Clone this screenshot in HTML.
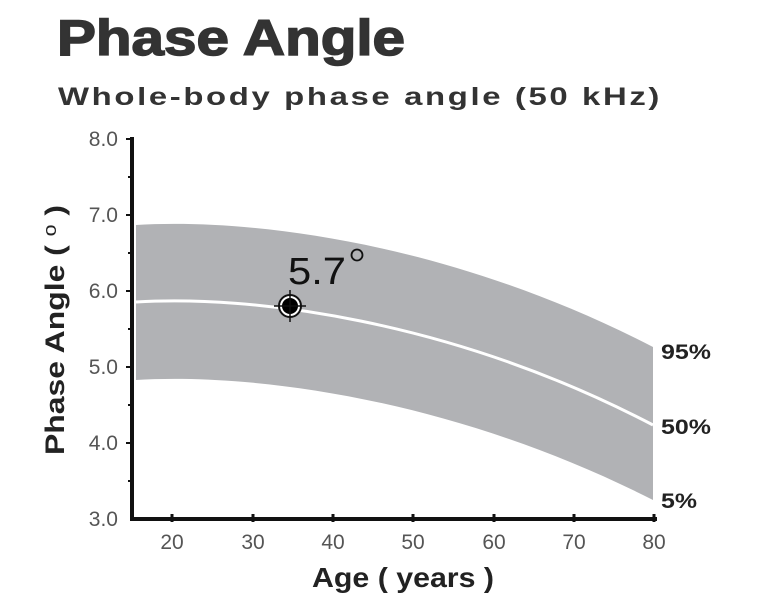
<!DOCTYPE html>
<html><head><style>
html,body{margin:0;padding:0;background:#fff;}
</style></head><body>
<svg width="768" height="601" viewBox="0 0 768 601" xmlns="http://www.w3.org/2000/svg" font-family="Liberation Sans, sans-serif">
<text x="57" y="55" font-size="50" font-weight="bold" fill="#333" textLength="348" lengthAdjust="spacingAndGlyphs" stroke="#333" stroke-width="1.5">Phase Angle</text>
<text x="58" y="105" font-size="25" font-weight="bold" fill="#333" textLength="604" lengthAdjust="spacingAndGlyphs" letter-spacing="2">Whole-body phase angle (50 kHz)</text>
<path d="M136,225 C250,218 450,242 653,347 L653,500 C450,397 250,373 136,380 Z" fill="#b1b2b5"/>
<path d="M136,302 C250,295 450,319 653,425" fill="none" stroke="#fff" stroke-width="3"/>
<line x1="132" y1="137" x2="132" y2="521" stroke="#111" stroke-width="4"/>
<line x1="130" y1="519" x2="657" y2="519" stroke="#111" stroke-width="4"/>
<g stroke="#111" stroke-width="2">
<line x1="126" y1="139" x2="134" y2="139"/><line x1="126" y1="215" x2="134" y2="215"/><line x1="126" y1="291" x2="134" y2="291"/><line x1="126" y1="367" x2="134" y2="367"/><line x1="126" y1="443" x2="134" y2="443"/>
<line x1="128" y1="177" x2="133" y2="177"/><line x1="128" y1="253" x2="133" y2="253"/><line x1="128" y1="329" x2="133" y2="329"/><line x1="128" y1="405" x2="133" y2="405"/><line x1="128" y1="481" x2="133" y2="481"/>
</g>
<g stroke="#111" stroke-width="3">
<line x1="172" y1="514" x2="172" y2="522"/><line x1="253" y1="514" x2="253" y2="522"/><line x1="333" y1="514" x2="333" y2="522"/><line x1="413" y1="514" x2="413" y2="522"/><line x1="494" y1="514" x2="494" y2="522"/><line x1="574" y1="514" x2="574" y2="522"/><line x1="654" y1="514" x2="654" y2="522"/>
</g>
<g font-size="21" fill="#555" text-anchor="end">
<text x="118" y="146">8.0</text><text x="118" y="222">7.0</text><text x="118" y="298">6.0</text><text x="118" y="374">5.0</text><text x="118" y="450">4.0</text><text x="118" y="526">3.0</text>
</g>
<g font-size="21" fill="#555" text-anchor="middle">
<text x="172" y="549">20</text><text x="253" y="549">30</text><text x="333" y="549">40</text><text x="413" y="549">50</text><text x="494" y="549">60</text><text x="574" y="549">70</text><text x="654" y="549">80</text>
</g>
<text transform="translate(64,330) rotate(-90)" text-anchor="middle" font-size="27" font-weight="bold" fill="#222" textLength="250" lengthAdjust="spacingAndGlyphs">Phase Angle ( <tspan font-weight="normal" font-size="18" dy="-8">o</tspan><tspan dy="8"> )</tspan></text>
<text x="403" y="587" text-anchor="middle" font-size="28" font-weight="bold" fill="#222" textLength="182" lengthAdjust="spacingAndGlyphs">Age ( years )</text>
<g font-size="21" font-weight="bold" fill="#222">
<text x="661" y="359" textLength="50" lengthAdjust="spacingAndGlyphs">95%</text><text x="661" y="434" textLength="50" lengthAdjust="spacingAndGlyphs">50%</text><text x="661" y="508" textLength="36" lengthAdjust="spacingAndGlyphs">5%</text>
</g>
<text x="288" y="284" font-size="38" fill="#111" textLength="58" lengthAdjust="spacingAndGlyphs">5.7</text>
<circle cx="357" cy="255" r="5.5" fill="none" stroke="#111" stroke-width="1.8"/>
<circle cx="290" cy="306" r="11" fill="#fff" stroke="#111" stroke-width="2"/>
<circle cx="290" cy="306" r="8" fill="#000"/>
<line x1="290" y1="290" x2="290" y2="322" stroke="#111" stroke-width="1.5"/>
<line x1="274" y1="306" x2="306" y2="306" stroke="#111" stroke-width="1.5"/>
</svg>
</body></html>
